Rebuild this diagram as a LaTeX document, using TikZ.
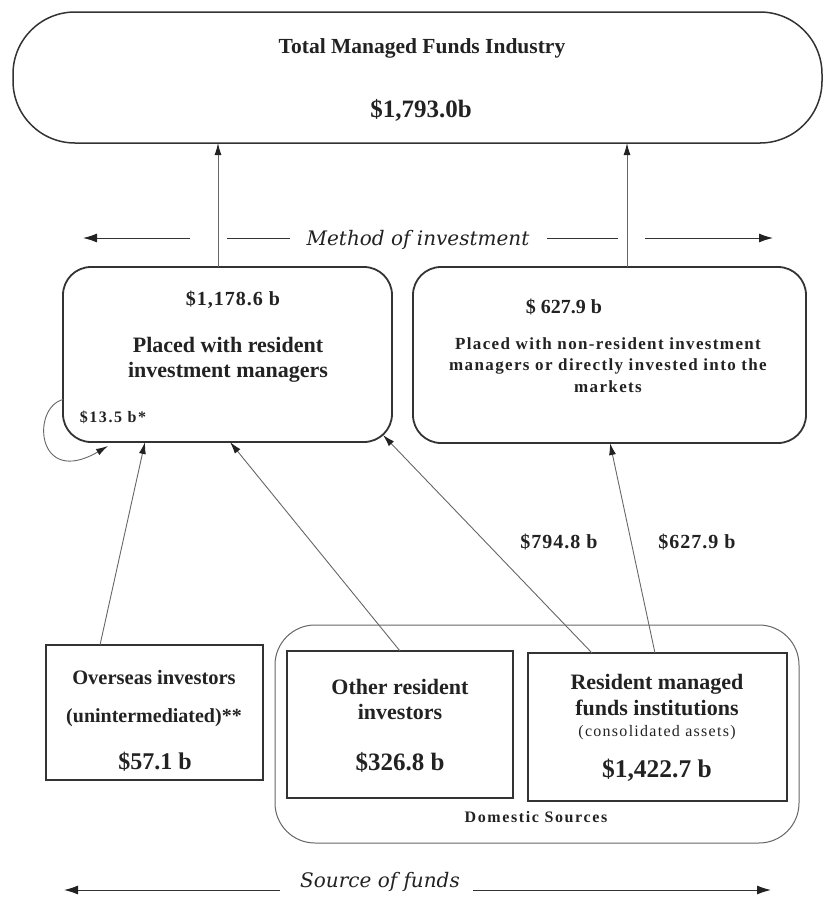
\documentclass[tikz,border=0pt]{standalone}
\usepackage{fontspec}
\setmainfont{Liberation Serif}
\newfontfamily\itf{DejaVu Serif}
\newfontfamily\spa[LetterSpace=5]{Liberation Serif}
\newfontfamily\spb[LetterSpace=8]{Liberation Serif}
\newfontfamily\spc[LetterSpace=10]{Liberation Serif}
\usetikzlibrary{arrows.meta}
\definecolor{ink}{HTML}{222222}
\definecolor{edge}{HTML}{333333}
\definecolor{thin}{HTML}{666666}
\begin{document}
\begin{tikzpicture}[x=1pt,y=-1pt,
 box/.style={draw=edge,line width=1.8pt,inner sep=0pt,outer sep=0pt},
 rbox/.style={box,rounded corners=28pt},
 lbl/.style={text=ink,inner sep=0pt,align=center},
 flow/.style={draw=thin,line width=0.9pt,-{Latex[length=12pt,width=7pt,color=ink]}},
 uparr/.style={draw=thin,line width=1pt,-{Latex[length=12pt,width=7pt,color=ink]}},
 axis/.style={draw=edge,line width=1pt,-{Latex[length=14pt,width=9pt,color=ink]}},
 axl/.style={draw=edge,line width=1pt},
]
\useasboundingbox (0,0) rectangle (827,898);

% top stadium
\node[box,line width=1.5pt,rounded corners=62pt,minimum width=809pt,minimum height=131pt] (top) at (417.5,77.5) {};
\node[lbl,font=\bfseries\fontsize{21.5}{24}\selectfont] (toptitle) at (422,48) {Total Managed Funds Industry};
\node[lbl,font=\bfseries\fontsize{25}{28}\selectfont] (topval) at (421,110) {\$1,793.0b};

% method of investment
\node[lbl,font=\itf\itshape\fontsize{20}{22}\selectfont] (moi) at (418,240) {Method of investment};
\coordinate (m1) at (190,238); \coordinate (m1e) at (83,238);
\coordinate (m2) at (227,238); \coordinate (m2e) at (290,238);
\coordinate (m3) at (547,238); \coordinate (m3e) at (618,238);
\coordinate (m4) at (645,238); \coordinate (m4e) at (773,238);
\draw[axis] (m1) -- (m1e);
\draw[axl] (m2) -- (m2e);
\draw[axl] (m3) -- (m3e);
\draw[axis] (m4) -- (m4e);

% middle boxes
\node[rbox,minimum width=329pt,minimum height=175pt] (lb) at (227.5,354.5) {};
\node[lbl,font=\spa\bfseries\fontsize{20}{22}\selectfont] (lbval) at (233,300) {\$1,178.6 b};
\node[lbl,font=\bfseries\fontsize{22}{25}\selectfont] (lbtxt) at (228,360) {Placed with resident\\investment managers};
\node[lbl,font=\spc\bfseries\fontsize{16}{18}\selectfont] (selfval) at (113,417) {\$13.5 b*};

\node[rbox,minimum width=393pt,minimum height=176pt] (rb) at (609.5,355) {};
\node[lbl,font=\bfseries\fontsize{20}{22}\selectfont] (rbval) at (564,307) {\$ 627.9 b};
\node[lbl,font=\spb\bfseries\fontsize{17}{21.5}\selectfont] (rbtxt) at (608,365) {Placed with non-resident investment\\managers or directly invested into the\\markets};

% up arrows
\draw[uparr] ([xshift=155pt]lb.north west) -- ([xshift=205pt]top.south west);
\draw[uparr] ([xshift=214pt]rb.north west) -- ([xshift=614pt]top.south west);

% bottom boxes
\node[draw=thin,line width=1pt,rounded corners=40pt,minimum width=524pt,minimum height=218pt,inner sep=0pt,outer sep=0pt] (dom) at (537,734) {};
\node[lbl,font=\spc\bfseries\fontsize{16}{18}\selectfont] (domlbl) at (536,817) {Domestic Sources};

\node[box,minimum width=217pt,minimum height=135pt] (ov) at (154.5,712.5) {};
\node[lbl,font=\bfseries\fontsize{20.5}{23}\selectfont] (ovt1) at (154,677) {Overseas investors};
\node[lbl,font=\bfseries\fontsize{20}{23}\selectfont] (ovt2) at (154,718) {(unintermediated)**};
\node[lbl,font=\bfseries\fontsize{24}{26}\selectfont] (ovval) at (155,762) {\$57.1 b};

\node[box,minimum width=226pt,minimum height=147pt] (ot) at (400,724.5) {};
\node[lbl,font=\bfseries\fontsize{22}{25}\selectfont] (ottxt) at (400,699.5) {Other resident\\investors};
\node[lbl,font=\bfseries\fontsize{25}{28}\selectfont] (otval) at (400,762) {\$326.8 b};

\node[box,minimum width=259pt,minimum height=148pt] (rm) at (657.5,727) {};
\node[lbl,font=\bfseries\fontsize{22}{26}\selectfont] (rmtxt) at (657,695) {Resident managed\\funds institutions};
\node[lbl,font=\spb\fontsize{16}{18}\selectfont] (rmsub) at (657,733) {(consolidated assets)};
\node[lbl,font=\bfseries\fontsize{25.5}{28}\selectfont] (rmval) at (657,770) {\$1,422.7 b};

% flows
\draw[flow] ([xshift=54pt]ov.north west) -- ([xshift=82pt]lb.south west);
\draw[flow] ([xshift=113pt]ot.north west) -- ([xshift=167pt]lb.south west);
\draw[flow] ([xshift=64pt]rm.north west) -- ([xshift=-9pt,yshift=7pt]lb.south east);
\draw[flow] ([xshift=127pt]rm.north west) -- ([xshift=197pt]rb.south west);
\draw[flow] ([yshift=-45pt]lb.west) .. controls +(-32,8) and +(-72,42) .. ([xshift=45pt,yshift=-4pt]lb.south west);

\node[lbl,font=\spa\bfseries\fontsize{20}{22}\selectfont] (f1) at (559,542) {\$794.8 b};
\node[lbl,font=\spa\bfseries\fontsize{20}{22}\selectfont] (f2) at (697,542) {\$627.9 b};

% source of funds
\node[lbl,font=\itf\itshape\fontsize{20}{22}\selectfont] (sof) at (380,882) {Source of funds};
\coordinate (s1) at (280,890); \coordinate (s1e) at (64,890);
\coordinate (s2) at (473,890); \coordinate (s2e) at (771,890);
\draw[axis] (s1) -- (s1e);
\draw[axis] (s2) -- (s2e);
\end{tikzpicture}
\end{document}
